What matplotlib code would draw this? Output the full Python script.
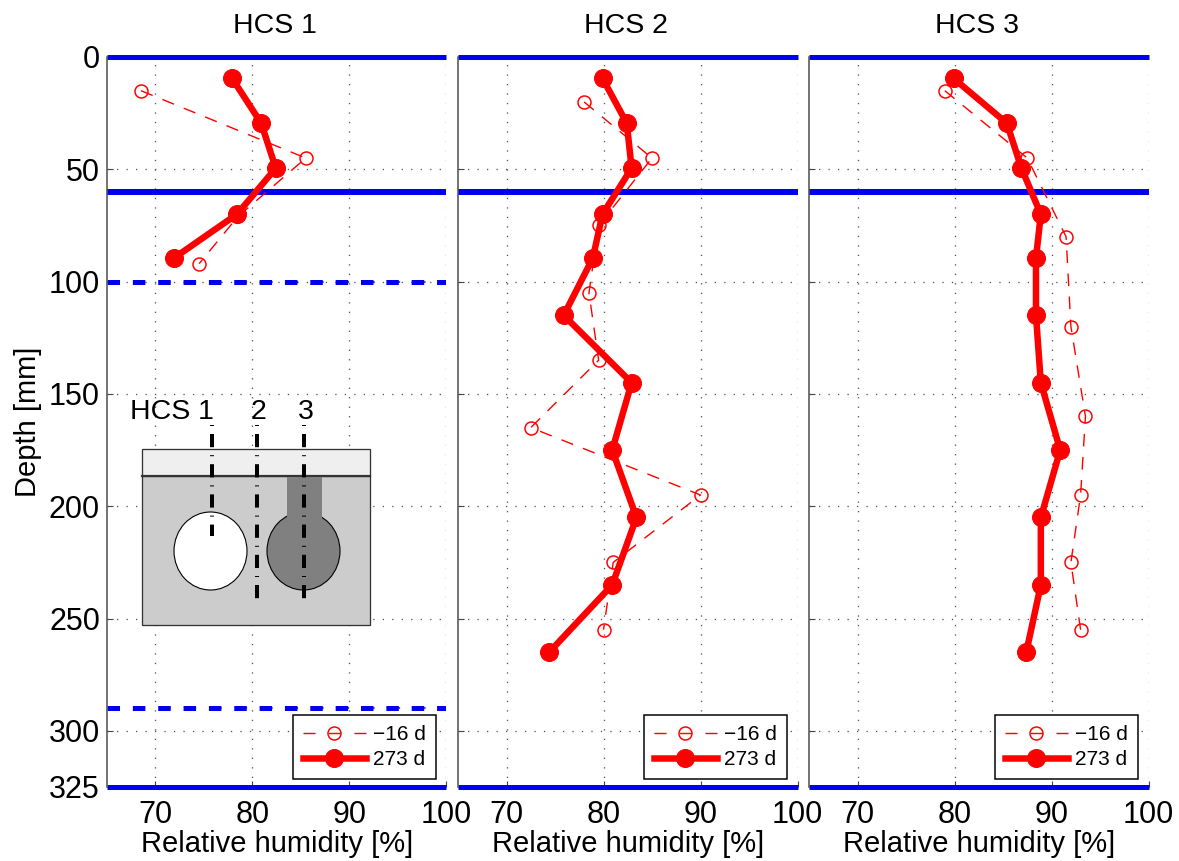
import matplotlib
matplotlib.use("Agg")
import matplotlib.pyplot as plt
from matplotlib.patches import Rectangle, Ellipse
from matplotlib.lines import Line2D

plt.rcParams['font.family'] = ['Liberation Sans', 'DejaVu Sans']

titles = ["HCS 1", "HCS 2", "HCS 3"]
x_ticks = [70, 80, 90, 100]
y_ticks = [0, 50, 100, 150, 200, 250, 300, 325]
solid_depths = [0, 60, 325]
dashed_depths = [100, 290]
series_labels = ["\u221216 d", "273 d"]

early_depth = [[15, 45, 71, 92],
               [20, 45, 75, 105, 135, 165, 195, 225, 255],
               [15, 45, 80, 120, 160, 195, 225, 255]]
early_rh = [[68.5, 85.5, 78.5, 74.5],
            [78, 85, 79.5, 78.5, 79.5, 72.5, 90, 81, 80],
            [79, 87.5, 91.5, 92, 93.5, 93, 92, 93]]
late_depth = [[9.5, 29.5, 49.5, 70, 89.5],
              [9.5, 29.5, 49.5, 70, 89.5, 115, 145, 175, 205, 235, 265],
              [9.5, 29.5, 49.5, 70, 89.5, 115, 145, 175, 205, 235, 265]]
late_rh = [[77.9, 80.9, 82.4, 78.4, 71.9],
           [79.9, 82.4, 82.9, 79.9, 78.9, 75.9, 82.9, 80.9, 83.4, 80.9, 74.4],
           [79.9, 85.4, 86.9, 88.9, 88.4, 88.4, 88.9, 90.9, 88.9, 88.9, 87.4]]

W, H = 1179, 861
PX = 72 / 100
fig = plt.figure(figsize=(W / 100, H / 100), dpi=100)
lefts = [107, 458, 809]
top, bottom, width = 57, 787, 339.5
GRID = '#555555'

early_style = dict(color='#ff0000', lw=1.4 * PX, ls=(0, (9, 7.5)), marker='o', ms=13 * PX,
                   mfc='none', mec='#ff0000', mew=1.5 * PX)
late_style = dict(color='#ff0000', lw=6.5 * PX, ls='-', marker='o', ms=18 * PX,
                  mfc='#ff0000', mec='#ff0000', mew=1 * PX)

for i, left in enumerate(lefts):
    ax = fig.add_axes([left / W, 1 - bottom / H, width / W, (bottom - top) / H])
    ax.set_xlim(65, 100)
    ax.set_ylim(325, 0)
    ax.set_xticks(x_ticks)
    ax.set_yticks(y_ticks)
    ax.tick_params(direction='in', length=4, width=0.8, color='#444444', labelsize=22)
    ax.tick_params(axis='x', pad=9.5)
    ax.tick_params(axis='y', pad=5, labelleft=(i == 0))
    ax.grid(True, color=GRID, lw=1.3 * PX, ls=(0, (1, 6.3)))
    ax.set_axisbelow(True)
    for s in ['top', 'right', 'bottom']:
        ax.spines[s].set_visible(False)
    ax.spines['left'].set_color('#555555')
    ax.spines['left'].set_linewidth(1.6 * PX)

    for d in solid_depths:
        ax.axhline(d, color='#0000ee', lw=(6 if d == 60 else 5) * PX, clip_on=False, zorder=2,
                   solid_capstyle='butt')
    if i == 0:
        for d in dashed_depths:
            ax.axhline(d, color='#0000ee', lw=5 * PX, ls=(0, (2.5, 2.57)), zorder=2)
            ax.axhline(d, color='#0000ee', lw=1.5 * PX, ls=(12 * 0.8 / 1.0, (1, 16)), zorder=2)

    ax.plot(early_rh[i], early_depth[i], zorder=3, clip_on=False, **early_style)
    ax.plot(late_rh[i], late_depth[i], zorder=4, clip_on=False, **late_style)

    ax.set_xlabel("Relative humidity [%]", fontsize=21, labelpad=0)
    ax.set_title(titles[i], fontsize=20.5, pad=17, x=0.495)
    if i == 0:
        ax.set_ylabel("Depth [mm]", fontsize=21, labelpad=5)

    legend_early = dict(early_style)
    legend_early['ls'] = (0, (8.6, 9.6, 8.6, 9.6, 8.6))
    handles = [Line2D([], [], **legend_early), Line2D([], [], **late_style)]
    leg = ax.legend(handles, series_labels, loc='lower right', fontsize=15,
                    bbox_to_anchor=(329.2 / 339.5, 8 / 730), frameon=True,
                    fancybox=False, framealpha=1, edgecolor='black', handlelength=3.03,
                    handletextpad=0.36, labelspacing=0.27, borderpad=0.48, borderaxespad=0)
    leg.get_frame().set_linewidth(1.5 * PX)
    leg.set_zorder(6)

# Schematic drawn in pixel coordinates of the figure
ov = fig.add_axes([0, 0, 1, 1], facecolor='none')
ov.set_xlim(0, W)
ov.set_ylim(H, 0)
ov.axis('off')
edge = '#333333'
ov.add_patch(Rectangle((142, 449), 228, 27, fc='#efefef', ec=edge, lw=1.3 * PX, zorder=1))
ov.add_patch(Rectangle((142, 476), 228, 149, fc='#cccccc', ec=edge, lw=1.3 * PX, zorder=1))
ov.plot([142, 370], [476, 476], color=edge, lw=2.2 * PX, zorder=2)
ov.add_patch(Ellipse((210.5, 551), 73, 78, fc='white', ec='black', lw=1.1 * PX, zorder=2))
ov.add_patch(Ellipse((303.5, 551), 73, 78, fc='#808080', ec='black', lw=1.1 * PX, zorder=2))
ov.add_patch(Rectangle((287, 477), 35, 50, fc='#808080', ec='none', zorder=3))
for x, y1 in [(212, 536), (257, 600), (304, 600)]:
    ov.plot([x, x], [425, y1], color='black', lw=4 * PX, ls=(0, (0.25, 2.0, 3.3, 2.0)), zorder=4)
for x, t in [(172, "HCS 1"), (258, "2"), (306, "3")]:
    ov.text(x, 412, t, fontsize=20.5, ha='center', va='center', color='black', zorder=5)

fig.savefig("out.png", dpi=100)
